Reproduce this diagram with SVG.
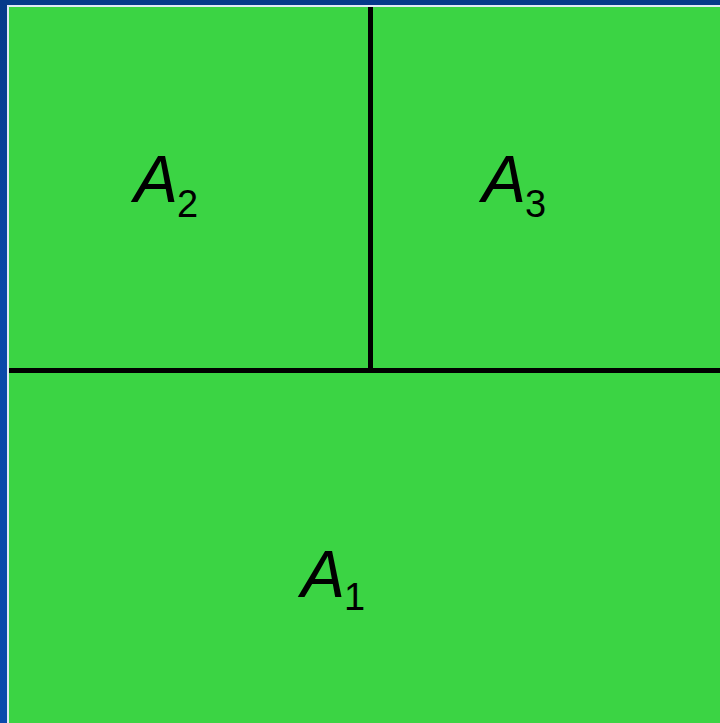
<svg xmlns="http://www.w3.org/2000/svg" width="720" height="723" viewBox="0 0 720 723">
<defs>
<linearGradient id="side" x1="0" y1="0" x2="0" y2="1">
<stop offset="0" stop-color="#063a8a"/>
<stop offset="0.4" stop-color="#0a48a8"/>
<stop offset="1" stop-color="#0a4aac"/>
</linearGradient>
</defs>
<style>
.lbl{font-family:"Liberation Sans",Arial,sans-serif;font-style:italic;font-size:66px;fill:#000}
.sub{font-family:"Liberation Sans",Arial,sans-serif;font-size:38px;fill:#000}
.div{stroke:#000;stroke-width:5;fill:none}
</style>
<rect x="0" y="0" width="720" height="723" fill="#063a8a"/>
<rect x="0" y="5" width="8" height="718" fill="url(#side)"/>
<rect x="7" y="5" width="713" height="718" fill="#dfe9f5"/>
<rect x="9" y="7" width="711" height="716" fill="#3bd444"/>
<g id="connectors">
<line class="div" x1="9" y1="370.5" x2="720" y2="370.5"/>
<line class="div" x1="370.5" y1="7" x2="370.5" y2="370.5"/>
</g>
<g id="A2"><text class="lbl" x="134" y="202">A</text><text class="sub" x="177" y="217">2</text></g>
<g id="A3"><text class="lbl" x="482" y="202">A</text><text class="sub" x="525" y="217">3</text></g>
<g id="A1"><text class="lbl" x="301" y="597">A</text><text class="sub" x="344" y="610">1</text></g>
</svg>
